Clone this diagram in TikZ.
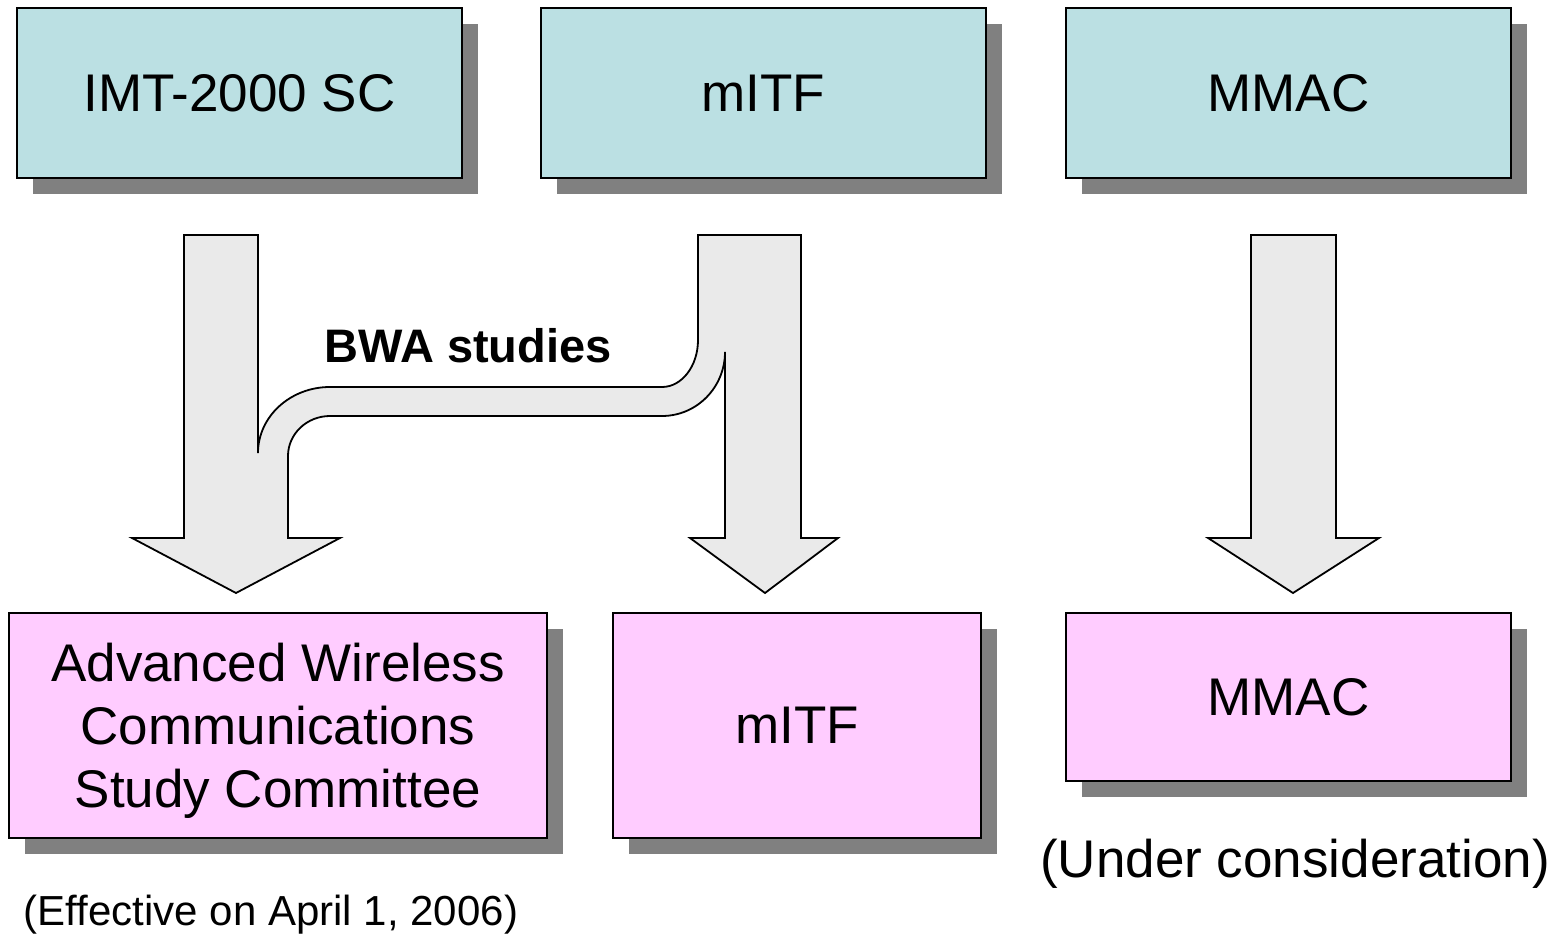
\documentclass[tikz,border=0pt]{standalone}
\usepackage{fontspec}
\setmainfont{Liberation Sans}
\usetikzlibrary{shadows}
\definecolor{topfill}{HTML}{BBE0E3}
\definecolor{botfill}{HTML}{FFCCFF}
\definecolor{arrfill}{HTML}{EAEAEA}
\definecolor{shadowgray}{HTML}{808080}
\tikzset{
  box/.style={draw=black, line width=1.8pt, inner sep=0pt, align=center,
    font=\fontsize{53}{63}\selectfont,
    drop shadow={shadow xshift=16pt, shadow yshift=-16pt, fill=shadowgray, opacity=1}},
  topbox/.style={box, fill=topfill},
  botbox/.style={box, fill=botfill},
  blockarrow/.style={draw=black, line width=1.8pt, fill=arrfill, line join=miter},
  note/.style={inner sep=0pt, font=\fontsize{53}{63}\selectfont},
}
\begin{document}
\begin{tikzpicture}[x=1pt, y=-1pt]
\useasboundingbox (0,0) rectangle (1558,936);
% top boxes
\node[topbox, minimum width=445pt, minimum height=170pt] (imt) at (239.5,93) {IMT-2000 SC};
\node[topbox, minimum width=445pt, minimum height=170pt] (mitfa) at (763.5,93) {mITF};
\node[topbox, minimum width=445pt, minimum height=170pt] (mmaca) at (1288.5,93) {MMAC};
% bottom boxes
\node[botbox, minimum width=538pt, minimum height=225pt] (awc) at (278,725.5) {};
\node[note, align=center] (awctext) at (278,731) {Advanced Wireless\\Communications\\Study Committee};
\node[botbox, minimum width=368pt, minimum height=225pt] (mitfb) at (797,725.5) {mITF};
\node[botbox, minimum width=445pt, minimum height=168pt] (mmacb) at (1288.5,697) {MMAC};
% arrows with BWA branch
\draw[blockarrow] (184,235) -- (258,235) -- (258,453)
  .. controls (258,416.6) and (290.2,387) .. (330,387) -- (662,387)
  .. controls (681.9,387) and (698,366) .. (698,340) -- (698,235) -- (801,235)
  -- (801,538) -- (838,538) -- (765,593) -- (690,538) -- (725,538) -- (725,352)
  .. controls (725,387.3) and (696.8,416) .. (662,416) -- (330,416)
  .. controls (306.8,416) and (288,433.9) .. (288,456) -- (288,538)
  -- (340,538) -- (236,593) -- (132,538) -- (184,538) -- cycle;
\draw[blockarrow] (1251,235) -- (1336,235) -- (1336,538) -- (1379,538)
  -- (1293,593) -- (1208,538) -- (1251,538) -- cycle;
% labels
\node[inner sep=0pt, font=\fontsize{47}{56}\selectfont\bfseries] (bwa) at (468,346) {BWA studies};
\node[inner sep=0pt, font=\fontsize{42}{50}\selectfont] (eff) at (271,915) {(Effective on April 1, 2006)};
\node[note] (under) at (1295,864) {(Under consideration)};
\end{tikzpicture}
\end{document}
